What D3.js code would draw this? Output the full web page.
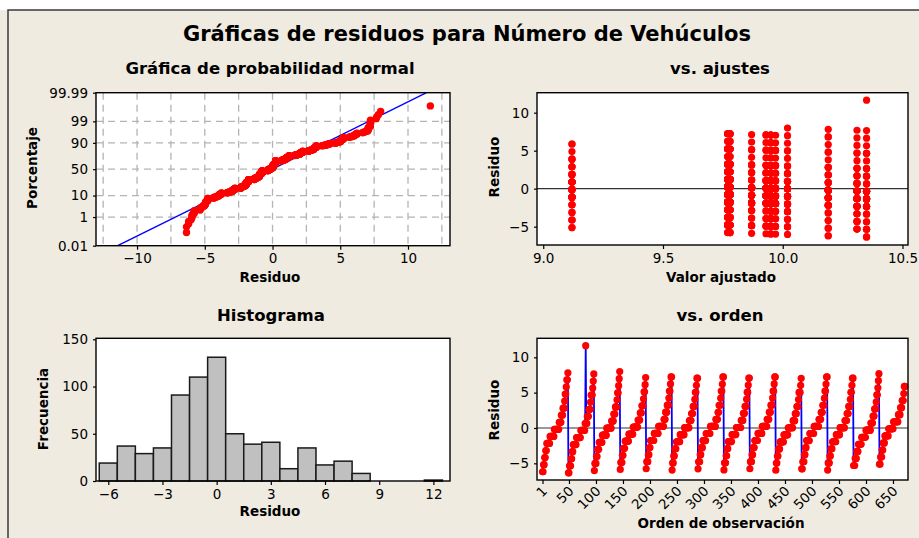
<!DOCTYPE html>
<html>
<head>
<meta charset="utf-8">
<script src="https://cdn.jsdelivr.net/npm/d3@7"></script>
<style>
  body { margin: 0; background: #efebe0; }
  svg { display: block; }
  text { font-family: "DejaVu Sans", sans-serif; fill: #000; }
  .tick text { font-size: 13.5px; }
  .lbl { font-weight: bold; font-size: 13.5px; }
  .sub { font-weight: bold; font-size: 16.5px; }
</style>
</head>
<body>
<svg width="919" height="538"></svg>
<script>
// vehicle counts possible in each observation, and how many of each per cycle (day)
const countLevels = [4, 5, 6, 7, 8, 9, 10, 11, 12, 13, 14, 15, 16, 17, 18];
const cycleFitted = [10.19, 10.35, 10.02, 9.87, 9.77, 9.95, 9.78, 9.93, 9.77, 9.97, 9.78, 9.95, 10.31, 9.12];
const cycleFreq = [
  [2, 2, 2, 2, 6, 8, 9, 4, 3, 3, 1, 2, 1, 2, 1],
  [2, 3, 2, 2, 6, 8, 8, 3, 3, 3, 1, 3, 1, 1, 1],
  [1, 3, 2, 3, 6, 8, 9, 4, 3, 3, 1, 2, 1, 1, 1],
  [1, 3, 2, 3, 7, 8, 9, 4, 3, 3, 1, 2, 1, 1, 0],
  [1, 3, 2, 2, 7, 8, 10, 3, 3, 3, 1, 2, 1, 2, 0],
  [1, 2, 2, 3, 7, 8, 9, 4, 3, 3, 1, 2, 1, 2, 0],
  [1, 3, 2, 3, 6, 8, 10, 4, 2, 3, 1, 2, 1, 2, 0],
  [1, 3, 2, 2, 7, 8, 9, 4, 3, 3, 1, 2, 1, 2, 0],
  [1, 3, 2, 3, 6, 8, 9, 4, 3, 3, 1, 2, 1, 2, 0],
  [1, 2, 2, 3, 7, 8, 9, 4, 3, 3, 1, 3, 1, 1, 0],
  [2, 3, 2, 2, 6, 8, 9, 4, 3, 3, 1, 2, 1, 2, 0],
  [1, 3, 2, 3, 7, 7, 9, 4, 3, 3, 1, 2, 1, 2, 0],
  [0, 3, 3, 3, 6, 8, 9, 4, 3, 3, 1, 2, 1, 1, 1],
  [2, 3, 2, 3, 7, 9, 9, 4, 3, 3, 1, 2, 0, 0, 0]
];
const outlierCycle = 1, outlierPos = 32, outlierCount = 22;

// histogram as read
const histCenters = [-6, -5, -4, -3, -2, -1, 0, 1, 2, 3, 4, 5, 6, 7, 8, 9, 10, 11, 12];
const histFreq = [19, 37, 29, 35, 91, 110, 131, 50, 39, 41, 13, 35, 17, 21, 8, 0, 0, 0, 1];

// ticks
const probTicks = [0.01, 1, 10, 50, 90, 99, 99.99];
const probGrid = [1, 10, 50, 90, 99];
const residXTicks = [-10, -5, 0, 5, 10];
const residGrid = [-12.5, -10, -7.5, -5, -2.5, 0, 2.5, 5, 7.5, 10, 12.5];
const fitTicks = [9.0, 9.5, 10.0, 10.5];
const residYTicks = [-5, 0, 5, 10];
const histXTicks = [-6, -3, 0, 3, 6, 9, 12];
const histYTicks = [0, 50, 100, 150];
const orderTicks = [1, 50, 100, 150, 200, 250, 300, 350, 400, 450, 500, 550, 600, 650];

function qnorm(p) {
  const a = [-3.969683028665376e+01, 2.209460984245205e+02, -2.759285104469687e+02, 1.383577518672690e+02, -3.066479806614716e+01, 2.506628277459239e+00];
  const b = [-5.447609879822406e+01, 1.615858368580409e+02, -1.556989798598866e+02, 6.680131188771972e+01, -1.328068155288572e+01];
  const c = [-7.784894002430293e-03, -3.223964580411365e-01, -2.400758277161838e+00, -2.549732539343734e+00, 4.374664141464968e+00, 2.938163982698783e+00];
  const d = [7.784695709041462e-03, 3.224671290700398e-01, 2.445134137142996e+00, 3.754408661907416e+00];
  const pl = 0.02425;
  let q, r;
  if (p < pl) {
    q = Math.sqrt(-2 * Math.log(p));
    return (((((c[0]*q+c[1])*q+c[2])*q+c[3])*q+c[4])*q+c[5]) / ((((d[0]*q+d[1])*q+d[2])*q+d[3])*q+1);
  }
  if (p > 1 - pl) {
    q = Math.sqrt(-2 * Math.log(1 - p));
    return -(((((c[0]*q+c[1])*q+c[2])*q+c[3])*q+c[4])*q+c[5]) / ((((d[0]*q+d[1])*q+d[2])*q+d[3])*q+1);
  }
  q = p - 0.5; r = q * q;
  return (((((a[0]*r+a[1])*r+a[2])*r+a[3])*r+a[4])*r+a[5])*q / (((((b[0]*r+b[1])*r+b[2])*r+b[3])*r+b[4])*r+1);
}

// observations in order
const obs = [];
cycleFitted.forEach((f, c) => {
  const counts = [];
  cycleFreq[c].forEach((k, j) => { for (let i = 0; i < k; i++) counts.push(countLevels[j]); });
  if (c === outlierCycle) counts.splice(outlierPos, 0, outlierCount);
  counts.forEach(v => obs.push({ fit: f, resid: v - f }));
});
obs.forEach((d, i) => d.order = i + 1);

const svg = d3.select('svg');
svg.append('rect').attr('width', 919).attr('height', 538).attr('fill', '#efebe0');
svg.append('rect').attr('width', 919).attr('height', 10).attr('fill', '#ffffff');
svg.append('path').attr('d', 'M8,538V10H919').attr('fill', 'none').attr('stroke', '#3a3a3a').attr('stroke-width', 1.5);

svg.append('text').attr('x', 467).attr('y', 41).attr('text-anchor', 'middle')
  .style('font-weight', 'bold').style('font-size', '21px')
  .text('Gráficas de residuos para Número de Vehúculos');

function frame(x0, x1, y0, y1, id) {
  const g = svg.append('g');
  g.append('rect').attr('x', x0).attr('y', y0).attr('width', x1 - x0).attr('height', y1 - y0).attr('fill', '#fff');
  svg.append('clipPath').attr('id', id).append('rect')
    .attr('x', x0).attr('y', y0).attr('width', x1 - x0).attr('height', y1 - y0);
  return g;
}
function border(x0, x1, y0, y1) {
  svg.append('rect').attr('x', x0).attr('y', y0).attr('width', x1 - x0).attr('height', y1 - y0)
    .attr('fill', 'none').attr('stroke', '#000').attr('stroke-width', 1.4);
}
function styleAxis(g) {
  g.select('.domain').remove();
  g.selectAll('.tick line').attr('stroke', '#000').attr('stroke-width', 1.2);
}
function title(x, y, t) {
  svg.append('text').attr('class', 'sub').attr('x', x).attr('y', y).attr('text-anchor', 'middle').text(t);
}
function xlabel(x, y, t) {
  svg.append('text').attr('class', 'lbl').attr('x', x).attr('y', y).attr('text-anchor', 'middle').text(t);
}
function ylabel(x, y, t) {
  svg.append('text').attr('class', 'lbl').attr('transform', `translate(${x},${y}) rotate(-90)`)
    .attr('text-anchor', 'middle').text(t);
}

// ---------- normal probability plot ----------
{
  const X0 = 96, X1 = 450, Y0 = 92.7, Y1 = 245.7;
  const sorted = obs.map(d => d.resid).sort(d3.ascending);
  const n = sorted.length;
  const mean = d3.mean(sorted), sd = d3.deviation(sorted);
  const pts = sorted.map((v, i) => ({ x: v, z: qnorm((i + 1 - 0.3) / (n + 0.4)) }));
  const x = d3.scaleLinear().domain([-13.03, 13.1]).range([X0, X1]);
  const y = d3.scaleLinear().domain([qnorm(0.0001), qnorm(0.9999)]).range([Y1, Y0]);
  const g = frame(X0, X1, Y0, Y1, 'c1');
  g.selectAll('.vg').data(residGrid).enter().append('line')
    .attr('x1', d => x(d)).attr('x2', d => x(d)).attr('y1', Y0).attr('y2', Y1)
    .attr('stroke', '#b4b4b4').attr('stroke-width', 1.3).attr('stroke-dasharray', '7,5');
  g.selectAll('.hg').data(probGrid).enter().append('line')
    .attr('x1', X0).attr('x2', X1).attr('y1', d => y(qnorm(d / 100))).attr('y2', d => y(qnorm(d / 100)))
    .attr('stroke', '#b4b4b4').attr('stroke-width', 1.3).attr('stroke-dasharray', '7,5');
  const zs = y.domain();
  g.append('line').attr('clip-path', 'url(#c1)')
    .attr('x1', x(mean + sd * zs[0])).attr('y1', y(zs[0]))
    .attr('x2', x(mean + sd * zs[1])).attr('y2', y(zs[1]))
    .attr('stroke', '#0000ff').attr('stroke-width', 1.3);
  g.selectAll('circle').data(pts).enter().append('circle')
    .attr('cx', d => x(d.x)).attr('cy', d => y(d.z)).attr('r', 3.7).attr('fill', '#ff0000');
  border(X0, X1, Y0, Y1);
  svg.append('g').attr('transform', `translate(0,${Y1})`)
    .call(d3.axisBottom(x).tickValues(residXTicks).tickSize(4).tickPadding(4).tickFormat(d3.format('d')))
    .call(styleAxis);
  svg.append('g').attr('transform', `translate(${X0},0)`)
    .call(d3.axisLeft(y).tickValues(probTicks.map(p => qnorm(p / 100))).tickSize(3).tickPadding(5)
      .tickFormat((d, i) => probTicks[i]))
    .call(styleAxis);
  title(270, 74, 'Gráfica de probabilidad normal');
  xlabel(270, 282, 'Residuo');
  ylabel(37, 168, 'Porcentaje');
}

// ---------- vs. ajustes ----------
{
  const X0 = 537, X1 = 908, Y0 = 92.7, Y1 = 245;
  const x = d3.scaleLinear().domain([8.974, 10.523]).range([X0, X1]);
  const y = d3.scaleLinear().domain([-7.41, 12.63]).range([Y1, Y0]);
  const g = frame(X0, X1, Y0, Y1, 'c2');
  g.append('line').attr('x1', X0).attr('x2', X1).attr('y1', y(0)).attr('y2', y(0))
    .attr('stroke', '#333').attr('stroke-width', 1.2);
  g.selectAll('circle').data(obs).enter().append('circle')
    .attr('cx', d => x(d.fit)).attr('cy', d => y(d.resid)).attr('r', 3.6).attr('fill', '#ff0000');
  border(X0, X1, Y0, Y1);
  svg.append('g').attr('transform', `translate(0,${Y1})`)
    .call(d3.axisBottom(x).tickValues(fitTicks).tickSize(4).tickPadding(4).tickFormat(d3.format('.1f')))
    .call(styleAxis);
  svg.append('g').attr('transform', `translate(${X0},0)`)
    .call(d3.axisLeft(y).tickValues(residYTicks).tickSize(3).tickPadding(5))
    .call(styleAxis);
  title(720, 74, 'vs. ajustes');
  xlabel(721, 282, 'Valor ajustado');
  ylabel(499, 167, 'Residuo');
}

// ---------- histograma ----------
{
  const X0 = 96, X1 = 450, Y0 = 338.3, Y1 = 481;
  const x = d3.scaleLinear().domain([-6.68, 12.92]).range([X0, X1]);
  const y = d3.scaleLinear().domain([0, 151.06]).range([Y1, Y0]);
  const g = frame(X0, X1, Y0, Y1, 'c3');
  g.selectAll('rect.bar').data(histCenters).enter().append('rect').attr('class', 'bar')
    .attr('x', d => x(d - 0.5)).attr('width', d => x(d + 0.5) - x(d - 0.5))
    .attr('y', (d, i) => y(histFreq[i])).attr('height', (d, i) => y(0) - y(histFreq[i]))
    .attr('fill', '#c0c0c0').attr('stroke', '#1a1a1a').attr('stroke-width', 1.5);
  border(X0, X1, Y0, Y1);
  svg.append('g').attr('transform', `translate(0,${Y1})`)
    .call(d3.axisBottom(x).tickValues(histXTicks).tickSize(4).tickPadding(4))
    .call(styleAxis);
  svg.append('g').attr('transform', `translate(${X0},0)`)
    .call(d3.axisLeft(y).tickValues(histYTicks).tickSize(3).tickPadding(5))
    .call(styleAxis);
  title(271, 321, 'Histograma');
  xlabel(270, 516, 'Residuo');
  ylabel(48, 409, 'Frecuencia');
}

// ---------- vs. orden ----------
{
  const X0 = 537, X1 = 908, Y0 = 338.3, Y1 = 480;
  const x = d3.scaleLinear().domain([-9.2, 677.8]).range([X0, X1]);
  const y = d3.scaleLinear().domain([-7.36, 12.69]).range([Y1, Y0]);
  const g = frame(X0, X1, Y0, Y1, 'c4');
  g.append('line').attr('x1', X0).attr('x2', X1).attr('y1', y(0)).attr('y2', y(0))
    .attr('stroke', '#333').attr('stroke-width', 1.2);
  g.append('path').datum(obs)
    .attr('d', d3.line().x(d => x(d.order)).y(d => y(d.resid)))
    .attr('fill', 'none').attr('stroke', '#0000ff').attr('stroke-width', 1.8);
  g.selectAll('circle').data(obs).enter().append('circle')
    .attr('cx', d => x(d.order)).attr('cy', d => y(d.resid)).attr('r', 3.6).attr('fill', '#ff0000');
  border(X0, X1, Y0, Y1);
  const ax = svg.append('g').attr('transform', `translate(0,${Y1})`)
    .call(d3.axisBottom(x).tickValues(orderTicks).tickSize(4).tickPadding(4))
    .call(styleAxis);
  ax.selectAll('.tick text')
    .attr('text-anchor', 'end').attr('dy', 0).attr('y', 0)
    .attr('transform', 'translate(5,12) rotate(-45)');
  svg.append('g').attr('transform', `translate(${X0},0)`)
    .call(d3.axisLeft(y).tickValues(residYTicks).tickSize(3).tickPadding(5))
    .call(styleAxis);
  title(720, 321, 'vs. orden');
  xlabel(721, 528, 'Orden de observación');
  ylabel(499, 410, 'Residuo');
}
</script>
</body>
</html>
